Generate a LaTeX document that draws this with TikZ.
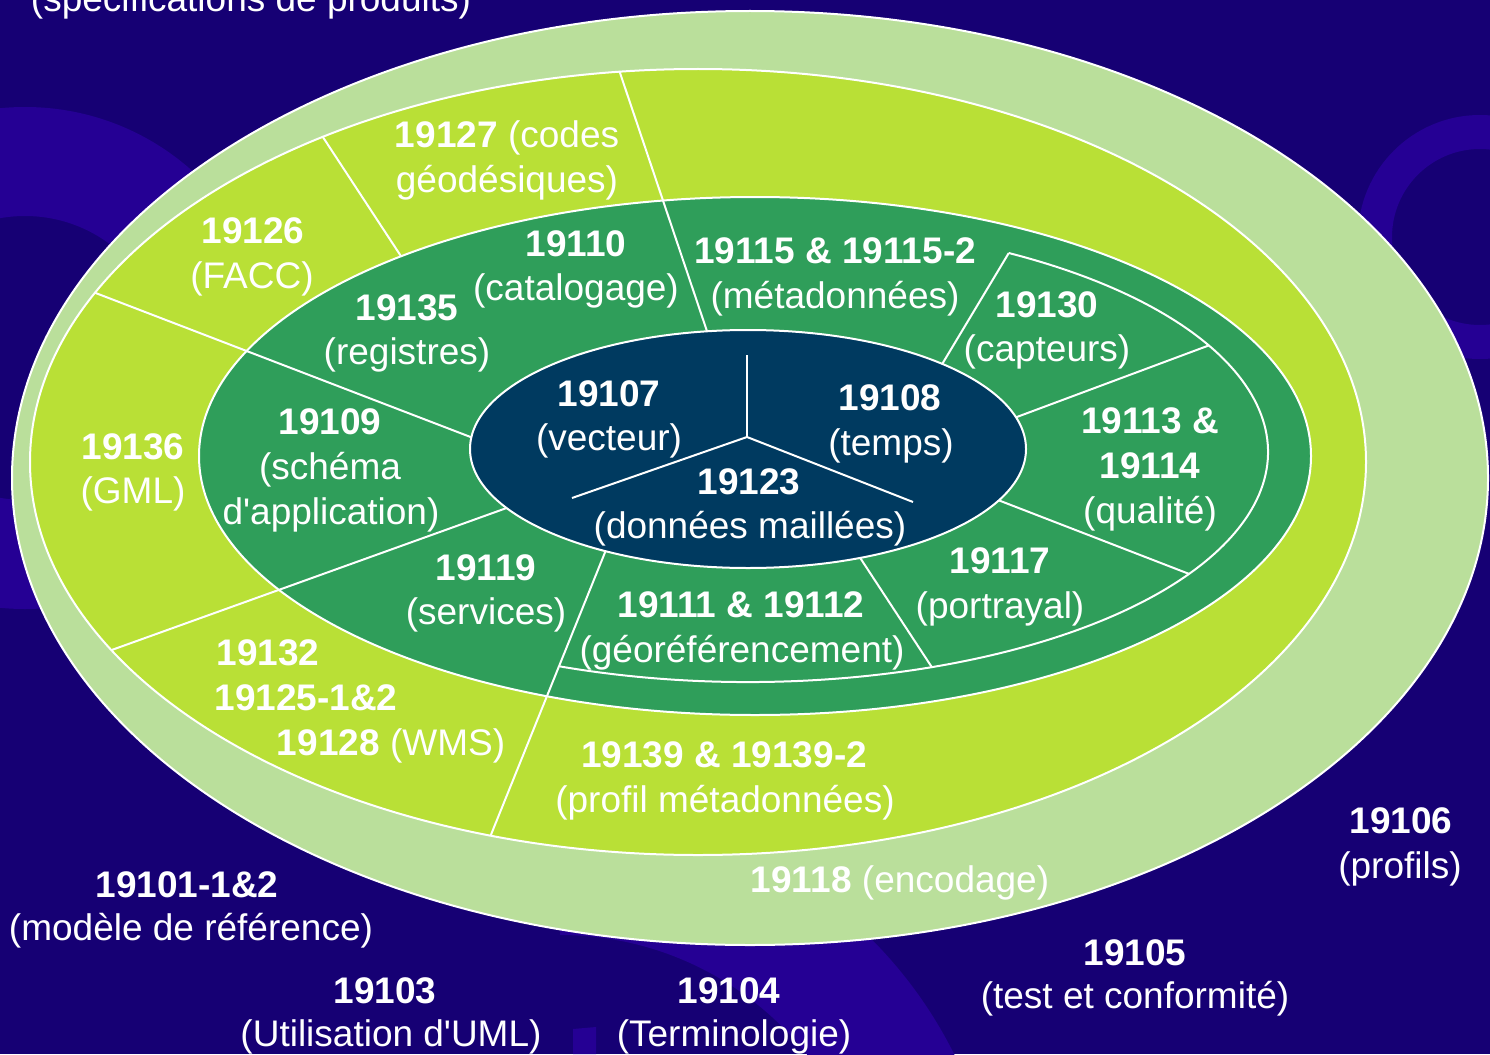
\documentclass[tikz,border=0pt]{standalone}
\usepackage{fontspec}
\newfontfamily\arialx{Liberation Sans}
\usetikzlibrary{calc}
\definecolor{bgdark}{RGB}{22,0,116}
\definecolor{bglight}{RGB}{37,0,148}
\definecolor{ringlg}{RGB}{186,223,155}
\definecolor{ringyg}{RGB}{185,224,54}
\definecolor{ringgr}{RGB}{47,158,90}
\definecolor{coredk}{RGB}{0,58,96}
\begin{document}
\begin{tikzpicture}[x=1pt,y=-1pt,
  wline/.style={white, line width=2pt},
  ringline/.style={draw=white, line width=2pt},
  lbl/.style={text=white, inner sep=0pt, anchor=base, font=\arialx\fontsize{37}{45}\selectfont}]
\useasboundingbox (0,0) rectangle (1490,1054);
\clip (0,0) rectangle (1490,1054);
\fill[bgdark] (0,0) rectangle (1490,1054);
% background decorations
\fill[bglight, even odd rule] (25,358) circle[radius=251] (25,358) circle[radius=142];
\fill[bglight, even odd rule] (1480,237) circle[radius=122] (1480,237) circle[radius=88];
\fill[bglight] (560,810) arc[start angle=-90,end angle=0,radius=440] -- (875,1250) arc[start angle=0,end angle=-90,radius=315] -- cycle;
\fill[bglight] (573,1054) -- (573,1029) -- (596,1027) -- (596,1054) -- cycle;
% rings
\filldraw[ringline, fill=ringlg] (750,478) ellipse[x radius=738, y radius=467];
\filldraw[ringline, fill=ringyg] (698,462) ellipse[x radius=668, y radius=393];
\coordinate (y1a) at (315,125);
\coordinate (y1b) at (412,273);
\begin{scope}
  \clip (698,462) ellipse[x radius=668, y radius=393];
  \draw[wline] (y1a) -- (y1b);
\end{scope}
\filldraw[ringline, fill=ringgr] (755,456) ellipse[x radius=556, y radius=259];
\coordinate (l1a) at (80,287);  \coordinate (l1b) at (520,456);
\coordinate (l2a) at (95,656);  \coordinate (l2b) at (540,496);
\coordinate (l3a) at (615,58);  \coordinate (l3b) at (715,355);
\coordinate (l4a) at (484,852); \coordinate (l4b) at (610,540);
\begin{scope}
  \clip (698,462) ellipse[x radius=668, y radius=393];
  \draw[wline] (l1a) -- (l1b);
  \draw[wline] (l2a) -- (l2b);
  \draw[wline] (l3a) -- (l3b);
  \draw[wline] (l4a) -- (l4b);
\end{scope}
% inner white arc in green ring
\coordinate (wc) at (748,452);
\coordinate (a0) at ($(wc)+(111.2:520 and 230)$);
\coordinate (a1) at ($(wc)+(-59.9:520 and 230)$);
\coordinate (a2) at ($(wc)+(-27.6:520 and 230)$);
\coordinate (a3) at ($(wc)+(32.0:520 and 230)$);
\coordinate (a4) at ($(wc)+(69.3:520 and 230)$);
\draw[wline] (a0) arc[start angle=111.2, end angle=-59.9, x radius=520, y radius=230];
\coordinate (b1) at (923,396);
\coordinate (b2) at (990,427);
\coordinate (b3) at (985,495);
\coordinate (b4) at (855,550);
\draw[wline] (a1) -- (b1);
\draw[wline] (a2) -- (b2);
\draw[wline] (a3) -- (b3);
\draw[wline] (a4) -- (b4);
% core
\filldraw[ringline, fill=coredk] (748,449) ellipse[x radius=278, y radius=119];
\coordinate (cj) at (747,437);
\coordinate (cu) at (747,355);
\coordinate (cl) at (572,498);
\coordinate (cr) at (913,502);
\draw[wline] (cj) -- (cu);
\draw[wline] (cj) -- (cl);
\draw[wline] (cj) -- (cr);
% outside labels
\node[lbl] (t0) at (251,12) {(spécifications de produits)};
\node[lbl] (t1a) at (1401,833) {\bfseries 19106};
\node[lbl] (t1b) at (1400,878) {(profils)};
\node[lbl] (t2a) at (187,897) {\bfseries 19101-1\&2};
\node[lbl] (t2b) at (191,940) {(modèle de référence)};
\node[lbl] (t3a) at (385,1003) {\bfseries 19103};
\node[lbl] (t3b) at (391,1046) {(Utilisation d'UML)};
\node[lbl] (t4a) at (729,1003) {\bfseries 19104};
\node[lbl] (t4b) at (734,1046) {(Terminologie)};
\node[lbl] (t5a) at (1135,965) {\bfseries 19105};
\node[lbl] (t5b) at (1135,1008) {(test et conformité)};
% light green ring
\node[lbl] (t6) at (900,892) {\textbf{19118} (encodage)};
% yellow ring
\node[lbl] (t7a) at (507,147) {\textbf{19127} (codes};
\node[lbl] (t7b) at (507,192) {géodésiques)};
\node[lbl] (t8a) at (253,243) {\bfseries 19126};
\node[lbl] (t8b) at (252,288) {(FACC)};
\node[lbl] (t9a) at (133,459) {\bfseries 19136};
\node[lbl] (t9b) at (133,503) {(GML)};
\node[lbl] (t10a) at (268,665) {\bfseries 19132};
\node[lbl] (t10b) at (306,710) {\bfseries 19125-1\&2};
\node[lbl] (t10c) at (391,755) {\textbf{19128} (WMS)};
\node[lbl] (t11a) at (724,767) {\bfseries 19139 \& 19139-2};
\node[lbl] (t11b) at (725,812) {(profil métadonnées)};
% green ring
\node[lbl] (t12a) at (576,256) {\bfseries 19110};
\node[lbl] (t12b) at (576,300) {(catalogage)};
\node[lbl] (t13a) at (407,320) {\bfseries 19135};
\node[lbl] (t13b) at (407,364) {(registres)};
\node[lbl] (t14a) at (835,263) {\bfseries 19115 \& 19115-2};
\node[lbl] (t14b) at (835,308) {(métadonnées)};
\node[lbl] (t15a) at (1047,317) {\bfseries 19130};
\node[lbl] (t15b) at (1047,361) {(capteurs)};
\node[lbl] (t16a) at (1150,433) {\bfseries 19113 \&};
\node[lbl] (t16b) at (1150,478) {\bfseries 19114};
\node[lbl] (t16c) at (1150,523) {(qualité)};
\node[lbl] (t17a) at (1000,573) {\bfseries 19117};
\node[lbl] (t17b) at (1000,618) {(portrayal)};
\node[lbl] (t18a) at (741,617) {\bfseries 19111 \& 19112};
\node[lbl] (t18b) at (742,662) {(géoréférencement)};
\node[lbl] (t19a) at (486,580) {\bfseries 19119};
\node[lbl] (t19b) at (486,624) {(services)};
\node[lbl] (t20a) at (330,434) {\bfseries 19109};
\node[lbl] (t20b) at (330,479) {(schéma};
\node[lbl] (t20c) at (331,524) {d'application)};
% core
\node[lbl] (t21a) at (609,406) {\bfseries 19107};
\node[lbl] (t21b) at (609,450) {(vecteur)};
\node[lbl] (t22a) at (890,410) {\bfseries 19108};
\node[lbl] (t22b) at (891,455) {(temps)};
\node[lbl] (t23a) at (749,494) {\bfseries 19123};
\node[lbl] (t23b) at (750,538) {(données maillées)};
\end{tikzpicture}
\end{document}
